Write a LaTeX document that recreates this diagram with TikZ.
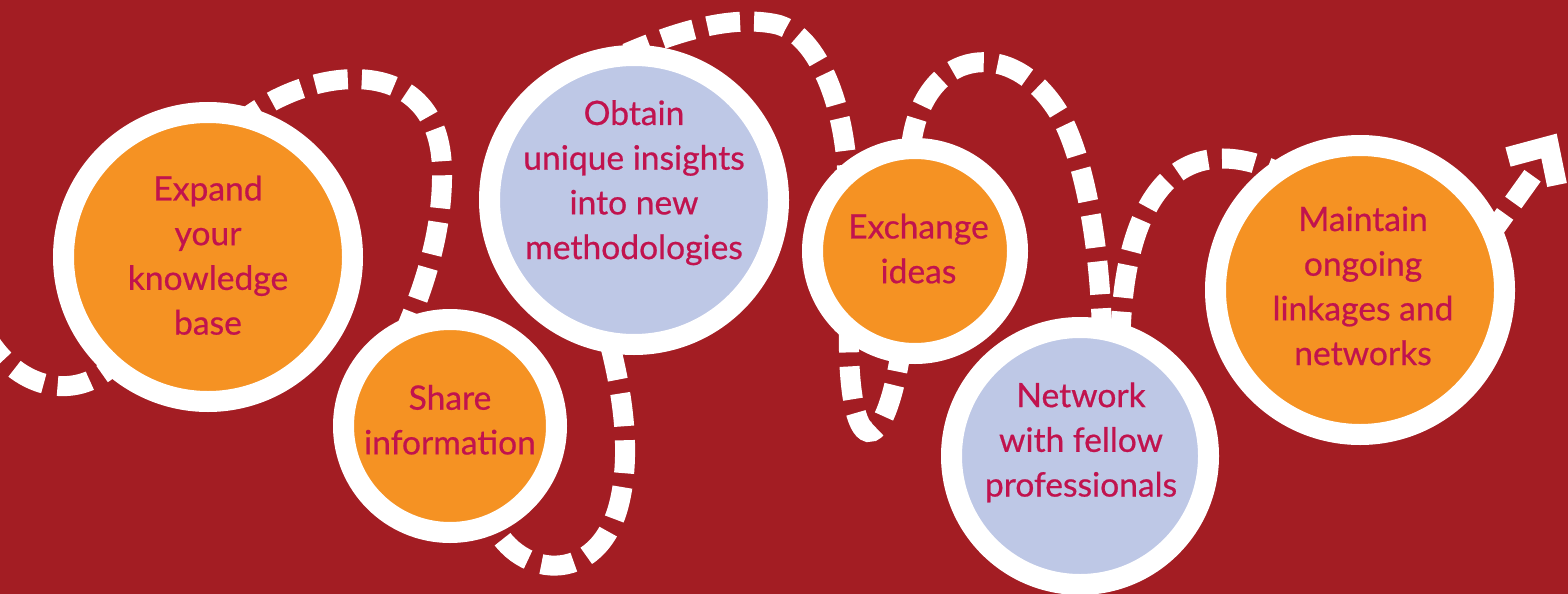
\documentclass[tikz,border=0pt]{standalone}
\usepackage{fontspec}
\setmainfont{Lato}
\newfontfamily\bubblefont{Lato}[FakeBold=0.6]
\definecolor{bgred}{RGB}{163,29,35}
\definecolor{orng}{RGB}{245,146,35}
\definecolor{lav}{RGB}{190,200,230}
\definecolor{txt}{RGB}{193,19,78}
\pgfdeclarelayer{back}
\pgfdeclarelayer{trailayer}
\pgfsetlayers{back,trailayer,main}
\tikzset{
  ring/.style={circle, draw=white, line width=21pt, inner sep=0pt, outer sep=10.5pt},
  warm/.style={ring, fill=orng},
  cool/.style={ring, fill=lav},
  bubbletext/.style={text=txt, align=center, inner sep=0pt, font=\bubblefont\fontsize{33.6pt}{44.7pt}\selectfont},
  trail/.style={draw=white, line width=20pt, dash pattern=on 33pt off 14pt, line cap=butt},
  chevron/.style={draw=white, line width=20pt, line join=miter, line cap=butt}
}
\begin{document}
\begin{tikzpicture}[x=1pt,y=-1pt]
\useasboundingbox (0,0) rectangle (1568,594);
\begin{pgfonlayer}{back}
\fill[bgred] (0,0) rectangle (1568,594);
\end{pgfonlayer}

% circles
\node[warm, minimum size=289pt] (expand)   at (208,257)  {};
\node[warm, minimum size=213pt] (share)    at (450,426)  {};
\node[cool, minimum size=289pt] (obtain)   at (634,200)  {};
\node[warm, minimum size=205pt] (exchange) at (915,251)  {};
\node[cool, minimum size=257pt] (network)  at (1080,456) {};
\node[warm, minimum size=289pt] (maintain) at (1360,290) {};

% texts
\node[bubbletext] (expandtxt)   at ([yshift=-1.6pt]expand.center) {\strut Expand\\your\\knowledge\\base\strut};
\node[bubbletext] (sharetxt)    at ([yshift=2.9pt]share.center) {\strut Share\\information\strut};
\node[bubbletext] (obtaintxt)   at ([yshift=16.9pt]obtain.center) {\strut Obtain\\unique insights\\into new\\methodologies\strut};
\node[bubbletext] (exchangetxt) at ([xshift=3.5pt,yshift=-0.9pt]exchange.center) {\strut Exchange\\ideas\strut};
\node[bubbletext] (networktxt)  at ([xshift=1pt,yshift=13.1pt]network.center) {\strut Network\\with fellow\\professionals\strut};
\node[bubbletext] (maintaintxt) at ([xshift=3pt,yshift=0.9pt]maintain.center) {\strut Maintain\\ongoing\\linkages and\\networks\strut};

% free ends
\coordinate (leftend) at (-10,342);
\coordinate (arrowbase) at (1533,175);
\coordinate (arrowL) at (1508,157);
\coordinate (arrowtip) at (1549,146);
\coordinate (arrowR) at (1557,185);

\begin{pgfonlayer}{trailayer}
\draw[trail, dash phase=10pt, shorten <=-20pt]
  (expand.229) .. controls (85,400) and (25,395) .. (leftend);
\draw[trail, dash phase=9.5pt, shorten <=-20pt, shorten >=-20pt]
  (expand.72) .. controls (310,65) and (440,50) .. (442,170)
  .. controls (443,230) and (425,285) .. (share.109);
\draw[trail, dash phase=19pt, shorten <=-20pt, shorten >=-20pt]
  (share.293) .. controls (512,580) and (600,590) .. (620,500)
  .. controls (630,455) and (625,400) .. (obtain.262);
\draw[trail, dash phase=8.5pt, shorten <=-20pt, shorten >=-20pt]
  (obtain.86) .. controls (685,28) and (735,16) .. (775,24)
  .. controls (815,32) and (845,100) .. (exchange.127);
\draw[trail, dash phase=3pt, shorten <=-20pt, shorten >=-20pt]
  (exchange.234) .. controls (846,465) and (885,465) .. (exchange.262);
\draw[trail, dash phase=40pt, shorten <=-20pt, shorten >=-20pt]
  (exchange.92) .. controls (915,50) and (1010,30) .. (1060,115)
  .. controls (1080,150) and (1100,230) .. (network.81);
\draw[trail, dash phase=1.5pt, shorten <=-20pt, shorten >=-20pt]
  (network.73) .. controls (1122,210) and (1170,120) .. (maintain.127);
\draw[trail, dash phase=3pt, shorten <=-20pt]
  (maintain.26) -- (arrowbase);
\draw[chevron] (arrowL) -- (arrowtip) -- (arrowR);
\end{pgfonlayer}
\end{tikzpicture}
\end{document}
